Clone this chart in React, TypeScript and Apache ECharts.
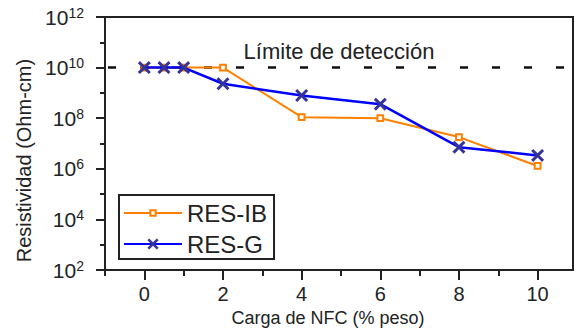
import React, { useEffect, useRef } from "react";
import * as echarts from "echarts";

const xValues = [0, 0.5, 1, 2, 4, 6, 8, 10];
const resIB = [1e10, 1e10, 1e10, 1e10, 1.1e8, 1.0e8, 1.8e7, 1.3e6];
const resG = [1e10, 1e10, 1e10, 2.3e9, 7.9e8, 3.6e8, 7.2e6, 3.4e6];
const seriesNames = ["RES-IB", "RES-G"];
const xMajorTicks = [0, 2, 4, 6, 8, 10];
const xMinorTicks = [-1, 1, 3, 5, 7, 9];
const yMajorTicks = [1e2, 1e4, 1e6, 1e8, 1e10, 1e12];
const yMinorTicks = [1e3, 1e5, 1e7, 1e9, 1e11];
const detectionLimit = 1e10;
const detectionLabel = "Límite de detección";
const xTitle = "Carga de NFC (% peso)";
const yTitle = "Resistividad (Ohm-cm)";

const FONT = "'Liberation Sans', Arial, sans-serif";
const INK = "#222";
const X_PATH =
  "path://M0,1.6L1.6,0L5,3.4L8.4,0L10,1.6L6.6,5L10,8.4L8.4,10L5,6.6L1.6,10L0,8.4L3.4,5Z";
const SQ_PATH = "path://M0,0M10,10M2.6,2.6L7.4,2.6L7.4,7.4L2.6,7.4Z";

export default function App() {
  const ref = useRef<HTMLDivElement>(null);
  useEffect(() => {
    if (!ref.current) return;
    const chart = echarts.init(ref.current, null, { renderer: "svg" });
    const xBase = {
      type: "value",
      min: -1,
      max: 10.9,
      position: "bottom",
      splitLine: { show: false },
    };
    const yBase = {
      type: "log",
      logBase: 10,
      min: 1e2,
      max: 1e12,
      position: "left",
      splitLine: { show: false },
    };
    chart.setOption({
      animation: false,
      backgroundColor: "#fff",
      grid: {
        left: 105,
        right: 3,
        top: 17,
        bottom: 55,
        show: true,
        borderColor: INK,
        borderWidth: 2,
        backgroundColor: "transparent",
      },
      legend: {
        show: true,
        data: seriesNames,
        orient: "vertical",
        left: 119,
        top: 195,
        itemWidth: 58,
        itemHeight: 14,
        itemGap: 7,
        padding: [6, 7, 3, 4],
        borderColor: INK,
        borderWidth: 2,
        backgroundColor: "#fff",
        textStyle: { fontSize: 24, fontFamily: FONT, color: INK },
      },
      xAxis: [
        {
          ...xBase,
          axisLine: { show: true, onZero: false, lineStyle: { color: INK, width: 2 } },
          axisTick: {
            show: true,
            customValues: xMajorTicks,
            length: 10,
            lineStyle: { color: INK, width: 2 },
          },
          axisLabel: {
            show: true,
            customValues: xMajorTicks,
            fontSize: 20,
            fontFamily: FONT,
            color: INK,
            margin: 14,
          },
          name: xTitle,
          nameLocation: "middle",
          nameGap: 36,
          nameTextStyle: {
            fontSize: 18,
            fontFamily: FONT,
            color: INK,
            padding: [0, 22, 0, 0],
          },
        },
        {
          ...xBase,
          axisLine: { show: false, onZero: false },
          axisTick: {
            show: true,
            customValues: xMinorTicks,
            length: 6,
            lineStyle: { color: INK, width: 2 },
          },
          axisLabel: { show: false },
        },
      ],
      yAxis: [
        {
          ...yBase,
          axisLine: { show: true, onZero: false, lineStyle: { color: INK, width: 2 } },
          axisTick: {
            show: true,
            customValues: yMajorTicks,
            length: 9,
            lineStyle: { color: INK, width: 2 },
          },
          axisLabel: {
            show: true,
            customValues: yMajorTicks,
            margin: 21,
            color: INK,
            formatter: (v: number) =>
              `{b|10}{s|${Math.round(Math.log10(v))}}`,
            rich: {
              b: { fontSize: 21, fontFamily: FONT, color: INK },
              s: {
                fontSize: 14,
                fontFamily: FONT,
                color: INK,
                padding: [0, 0, 9, 0],
              },
            },
          },
          name: yTitle,
          nameLocation: "middle",
          nameGap: 68,
          nameTextStyle: {
            fontSize: 20,
            fontFamily: FONT,
            color: INK,
            padding: [0, 34, 0, 0],
          },
        },
        {
          ...yBase,
          axisLine: { show: false, onZero: false },
          axisTick: {
            show: true,
            customValues: yMinorTicks,
            length: 5,
            lineStyle: { color: INK, width: 2 },
          },
          axisLabel: { show: false },
        },
      ],
      series: [
        {
          name: seriesNames[0],
          type: "line",
          xAxisIndex: 0,
          yAxisIndex: 0,
          data: xValues.map((x, i) => [x, resIB[i]]),
          symbol: SQ_PATH,
          symbolSize: 12,
          showAllSymbol: true,
          color: "#FF8000",
          itemStyle: { color: "#fff", borderColor: "#FF8000", borderWidth: 2 },
          lineStyle: { color: "#FF8000", width: 2 },
          z: 3,
          markLine: {
            silent: true,
            symbol: ["none", "none"],
            data: [{ yAxis: detectionLimit }],
            lineStyle: { color: "#111", width: 2.5, type: [8, 24], dashOffset: 29 },
            label: {
              show: true,
              formatter: detectionLabel,
              position: "insideMiddleTop",
              distance: 5,
              fontSize: 22,
              fontFamily: FONT,
              color: INK,
            },
            z: 2,
          },
        },
        {
          name: seriesNames[1],
          type: "line",
          xAxisIndex: 0,
          yAxisIndex: 0,
          data: xValues.map((x, i) => [x, resG[i]]),
          symbol: X_PATH,
          symbolSize: 13,
          showAllSymbol: true,
          color: "#0000FF",
          itemStyle: { color: "#333399" },
          lineStyle: { color: "#0000FF", width: 2.5 },
          z: 4,
        },
      ],
    });
    return () => chart.dispose();
  }, []);
  return (
    <div
      ref={ref}
      style={{ position: "fixed", left: 0, top: 0, width: 576, height: 332 }}
    />
  );
}
